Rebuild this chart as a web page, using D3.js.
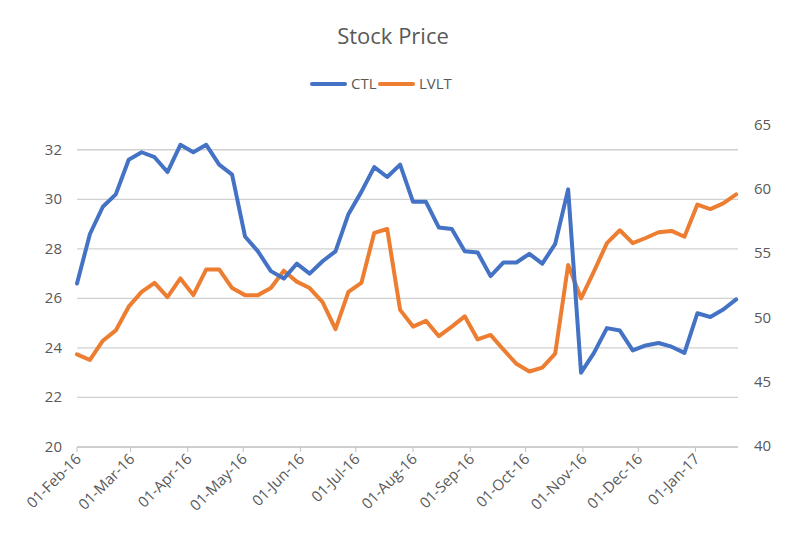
<!DOCTYPE html>
<html><head><meta charset="utf-8">
<script src="https://cdn.jsdelivr.net/npm/d3@7"></script>
<style>body{margin:0;background:#fff}text{font-family:"Open Sans",Calibri,sans-serif}</style>
</head><body><svg width="787" height="547"></svg>
<script>
const ctl = [26.6,28.6,29.7,30.2,31.6,31.9,31.7,31.1,32.2,31.9,32.2,31.4,31.0,28.5,27.9,27.1,26.8,27.4,27.0,27.5,27.9,29.4,30.3,31.3,30.9,31.4,29.9,29.9,28.86,28.8,27.9,27.85,26.9,27.45,27.45,27.8,27.4,28.2,30.4,23.0,23.8,24.8,24.7,23.9,24.1,24.2,24.05,23.8,25.4,25.25,25.55,25.96];
const lvlt = [47.14,46.7,48.2,49.0,50.85,52.0,52.7,51.6,53.05,51.75,53.75,53.75,52.3,51.75,51.75,52.3,53.65,52.8,52.3,51.2,49.1,52.0,52.7,56.6,56.9,50.6,49.3,49.75,48.55,49.3,50.1,48.3,48.65,47.5,46.4,45.8,46.1,47.2,54.1,51.5,53.6,55.8,56.8,55.8,56.2,56.65,56.75,56.3,58.8,58.45,58.9,59.6];
const start = new Date(2016,1,1);
const dates = ctl.map((d,i)=>d3.timeDay.offset(start,i*7));
const leftTicks = [20,22,24,26,28,30,32];
const rightTicks = [40,45,50,55,60,65];
const monthTicks = d3.timeMonth.range(new Date(2016,1,1), new Date(2017,1,1));

const gray="#595959", blue="#4472C4", orange="#ED7D31";
const svg = d3.select("svg");
const x = d3.scaleTime().domain([start,new Date(2017,0,24)]).range([77,738]);
const yL = d3.scaleLinear().domain([20,33]).range([447,125]);
const yR = d3.scaleLinear().domain([40,65]).range([446,125]);

svg.append("text").text("Stock Price").attr("x",393).attr("y",44).attr("text-anchor","middle")
  .style("font-size","22px").style("fill",gray);

svg.append("g").selectAll("line").data(leftTicks).enter().append("line")
  .attr("x1",77).attr("x2",738).attr("y1",d=>yL(d)).attr("y2",d=>yL(d))
  .style("stroke",d=>d==20?"#bfbfbf":"#d0d0d0").style("stroke-width",1.3);

svg.append("g").selectAll("text").data(leftTicks).enter().append("text")
  .text(d=>d).attr("x",62).attr("y",d=>yL(d)+5).attr("text-anchor","end")
  .style("font-size","15px").style("fill",gray);
svg.append("g").selectAll("text").data(rightTicks).enter().append("text")
  .text(d=>d).attr("x",754).attr("y",d=>yR(d)+5)
  .style("font-size","15px").style("fill",gray);

const fmt = d3.timeFormat("%d-%b-%y");
const xg = svg.append("g");
xg.selectAll("line").data(monthTicks).enter().append("line")
  .attr("x1",d=>x(d)).attr("x2",d=>x(d)).attr("y1",447).attr("y2",452)
  .style("stroke","#bfbfbf");
xg.selectAll("text").data(monthTicks).enter().append("text")
  .text(d=>fmt(d)).attr("text-anchor","end")
  .attr("transform",d=>`translate(${x(d)+5},${460}) rotate(-45)`)
  .style("font-size","15px").style("fill",gray);

const lineL = d3.line().x((d,i)=>x(dates[i])).y(d=>yL(d));
const lineR = d3.line().x((d,i)=>x(dates[i])).y(d=>yR(d));
svg.append("path").datum(lvlt).attr("d",lineR).style("fill","none").style("stroke",orange)
  .style("stroke-width",4).style("stroke-linejoin","round").style("stroke-linecap","round");
svg.append("path").datum(ctl).attr("d",lineL).style("fill","none").style("stroke",blue)
  .style("stroke-width",4).style("stroke-linejoin","round").style("stroke-linecap","round");

const legend = [["CTL",blue,312],["LVLT",orange,380]];
legend.forEach(([n,c,lx])=>{
  svg.append("line").attr("x1",lx).attr("x2",lx+33).attr("y1",84).attr("y2",84)
    .style("stroke",c).style("stroke-width",4).style("stroke-linecap","round");
  svg.append("text").text(n).attr("x",lx+39).attr("y",89).style("font-size","15px").style("fill",gray);
});
</script></body></html>
